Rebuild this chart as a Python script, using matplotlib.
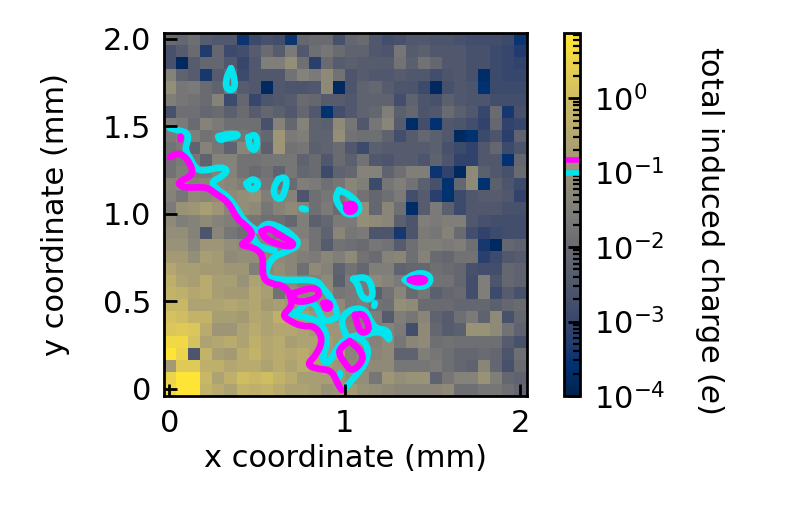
import numpy as np
import matplotlib
matplotlib.use("Agg")
import matplotlib.pyplot as plt
from matplotlib.colors import LogNorm
from matplotlib.path import Path
from matplotlib.patches import PathPatch

# log10 of the charge per pixel, top row first, left to right
log_charge = [
    [-2.0,-2.1,-1.9,-2.4,-2.5,-2.5,-3.5,-2.9,-2.7,-2.8,-3.5,-2.1,-2.0,-2.0,-2.7, -2.1,-2.0,-2.5,-2.8,-2.7,-2.5,-2.5,-2.6,-2.6,-2.7,-2.8,-2.8,-2.8,-2.9,-3.5],
    [-2.7,-2.4,-2.0,-3.3,-2.1,-2.9,-2.8,-2.4,-2.0,-2.4,-1.6,-2.5,-1.9,-1.7,-2.0, -2.2,-2.2,-2.5,-2.6,-1.7,-2.4,-2.3,-2.5,-2.5,-2.5,-2.7,-2.7,-2.9,-3.0,-3.3],
    [-2.7,-3.8,-2.4,-2.1,-2.1,-2.5,-3.0,-2.5,-1.5,-1.5,-1.1,-1.9,-3.2,-2.0,-2.4, -2.3,-2.4,-2.4,-2.4,-1.8,-2.3,-1.8,-2.1,-2.5,-2.5,-2.7,-2.7,-2.9,-3.0,-3.1],
    [-1.4,-2.2,-2.4,-3.4,-2.4,-2.1,-2.9,-2.5,-2.5,-2.5,-1.8,-1.4,-1.6,-1.2,-1.8, -2.6,-2.4,-2.5,-2.5,-2.4,-2.5,-2.5,-2.8,-2.6,-2.5,-2.7,-3.7,-2.9,-3.0,-3.0],
    [-1.1,-1.7,-1.6,-2.0,-2.2,-1.8,-2.4,-2.5,-3.8,-2.5,-2.6,-2.6,-2.5,-1.2,-3.8, -2.6,-2.2,-2.1,-2.4,-2.6,-2.6,-2.9,-3.8,-2.7,-2.5,-2.6,-3.6,-2.9,-2.9,-2.9],
    [-1.5,-1.7,-1.8,-2.0,-1.4,-2.9,-2.1,-3.0,-2.6,-2.5,-2.4,-2.0,-2.1,-2.4,-2.4, -2.5,-2.2,-2.2,-2.2,-2.8,-2.2,-2.6,-2.7,-2.3,-2.5,-2.6,-2.6,-2.8,-2.8,-2.8],
    [-2.7,-1.9,-1.9,-2.1,-2.0,-2.3,-2.0,-2.4,-2.1,-2.3,-2.5,-2.1,-2.5,-3.6,-2.8, -2.5,-2.2,-2.1,-1.5,-2.3,-2.1,-2.6,-2.5,-2.0,-2.3,-2.5,-3.0,-2.0,-3.4,-2.7],
    [-1.5,-1.6,-2.0,-1.4,-1.6,-1.9,-1.9,-1.9,-2.7,-1.4,-2.1,-1.4,-2.2,-2.3,-1.2, -1.7,-2.5,-1.7,-1.3,-2.4,-3.7,-2.8,-3.6,-2.5,-2.6,-2.8,-3.1,-2.1,-3.1,-3.0],
    [-1.6,-1.4,-1.5,-1.8,-1.7,-1.5,-1.7,-1.9,-2.1,-0.9,-1.6,-1.5,-2.2,-2.2,-1.1, -1.8,-1.9,-1.9,-2.2,-2.8,-2.4,-2.1,-2.3,-2.5,-3.8,-3.6,-2.9,-2.6,-3.2,-2.2],
    [-1.8,-1.6,-2.2,-1.4,-1.7,-2.2,-1.3,-1.5,-2.3,-0.9,-1.8,-1.7,-2.3,-2.2,-2.0, -2.5,-2.9,-2.3,-2.4,-2.4,-2.4,-2.4,-2.3,-2.7,-2.9,-3.1,-2.5,-2.1,-2.9,-2.6],
    [-1.8,-1.6,-1.7,-2.2,-1.4,-1.4,-1.8,-1.8,-1.7,-1.7,-1.7,-2.2,-2.0,-2.5,-2.0, -2.3,-1.8,-2.5,-2.6,-2.4,-2.4,-2.6,-2.2,-2.6,-3.1,-3.1,-2.5,-2.5,-3.6,-2.1],
    [-1.8,-1.5,-1.6,-1.6,-1.4,-1.4,-1.8,-2.0,-1.8,-2.2,-1.7,-2.1,-2.0,-2.9,-2.2, -2.1,-1.4,-1.4,-2.2,-1.9,-1.5,-1.5,-3.5,-3.1,-3.8,-1.2,-2.3,-2.5,-2.7,-2.0],
    [-1.3,-1.2,-1.4,-1.3,-1.2,-1.3,-1.5,-1.6,-1.7,-1.8,-2.0,-1.5,-1.6,-1.9,-1.7, -1.3,-1.5,-2.9,-1.7,-1.5,-1.8,-2.3,-2.7,-3.6,-2.1,-1.2,-3.6,-2.3,-2.6,-2.9],
    [-1.4,-1.7,-1.2,-1.3,-1.2,-1.2,-1.1,-1.0,-1.5,-1.4,-1.4,-2.6,-1.9,-1.7,-1.7, -1.4,-1.8,-2.1,-1.9,-1.6,-2.8,-2.4,-3.2,-3.6,-2.9,-2.5,-2.4,-2.4,-2.5,-3.1],
    [-1.6,-1.0,-0.9,-0.7,-0.9,-1.3,-1.1,-1.2,-1.7,-1.4,-1.2,-1.4,-1.9,-1.6,-2.0, -1.3,-1.1,-2.1,-1.3,-1.9,-3.7,-2.4,-1.6,-2.3,-2.9,-2.5,-2.5,-2.5,-2.7,-2.7],
    [-1.2,-1.5,-1.4,-1.2,-1.4,-1.5,-1.6,-1.7,-1.9,-1.9,-2.1,-1.5,-2.3,-2.1,-1.6, -1.6,-1.1,-1.2,-1.3,-2.3,-2.6,-1.5,-1.6,-1.5,-1.5,-2.5,-2.7,-2.8,-2.8,-2.8],
    [-1.1,-1.1,-1.4,-2.6,-1.3,-1.7,-1.9,-1.4,-1.5,-1.7,-1.5,-1.5,-1.8,-2.2,-1.3, -1.7,-1.6,-2.6,-2.6,-3.4,-2.6,-1.6,-1.7,-1.4,-2.0,-2.8,-3.1,-2.9,-2.8,-2.8],
    [-1.0,-1.0,-1.3,-0.9,-0.9,-1.1,-1.2,-1.1,-1.3,-1.3,-1.2,-1.3,-1.8,-2.4,-1.8, -1.9,-2.0,-1.7,-1.8,-2.4,-1.9,-1.5,-1.5,-1.6,-1.5,-1.9,-3.4,-3.8,-2.1,-2.2],
    [-0.8,-0.8,-1.1,-0.7,-0.8,-1.2,-1.1,-1.1,-1.2,-1.2,-1.3,-1.5,-1.6,-1.3,-1.5, -1.2,-1.8,-2.0,-1.4,-1.3,-1.9,-1.4,-2.0,-2.1,-1.8,-1.8,-3.2,-2.9,-2.5,-2.4],
    [-0.5,-0.7,-0.7,-0.8,-0.8,-0.9,-0.9,-1.5,-1.3,-1.1,-1.3,-1.9,-1.2,-1.4,-2.2, -1.8,-2.1,-1.5,-1.5,-2.2,-2.1,-2.1,-1.9,-2.0,-2.1,-2.7,-2.8,-2.8,-2.1,-2.2],
    [-0.3,-0.6,-0.7,-0.4,-0.7,-0.7,-1.0,-0.6,-0.8,-1.0,-1.2,-1.5,-1.4,-1.2,-2.3, -1.6,-1.6,-1.2,-1.4,-1.6,-1.8,-1.6,-1.8,-1.8,-2.1,-2.8,-1.5,-2.6,-2.1,-2.2],
    [-0.2,-0.3,-0.5,-0.4,-0.7,-0.8,-0.8,-0.5,-0.7,-1.8,-1.1,-1.2,-1.1,-1.2,-1.7, -1.6,-1.6,-2.3,-1.8,-1.3,-2.0,-1.7,-2.3,-2.1,-2.0,-2.8,-1.5,-2.9,-2.4,-2.7],
    [-0.1,-0.1,-0.6,-0.6,-0.6,-0.5,-0.6,-0.5,-0.8,-0.7,-0.9,-0.9,-1.1,-1.1,-1.2, -1.6,-1.5,-1.8,-1.9,-1.1,-1.2,-2.0,-2.0,-2.0,-2.1,-2.1,-2.1,-2.3,-2.1,-2.0],
    [ 0.1, 0.0,-0.2,-0.2,-0.7,-0.7,-0.8,-0.5,-0.6,-0.3,-0.7,-0.7,-0.9,-0.9,-1.1, -1.4,-1.5,-1.5,-2.4,-1.5,-1.7,-1.3,-2.2,-2.4,-1.9,-1.6,-2.2,-1.2,-2.7,-2.1],
    [ 0.2, 0.3, 0.2,-0.4,-0.9,-0.9,-0.6,-0.4,-0.6,-0.5,-0.5,-0.6,-0.8,-0.9,-0.9, -1.3,-1.3,-1.6,-1.4,-1.6,-2.8,-1.2,-2.1,-2.4,-2.3,-1.0,-1.0,-1.2,-1.8,-2.2],
    [ 0.6, 0.6, 0.1,-0.6,-0.5,-0.4,-0.6,-0.3,-0.5,-0.4,-0.7,-0.6,-0.6,-0.8,-0.9, -1.3,-1.2,-1.4,-1.2,-1.7,-1.3,-1.2,-1.9,-1.8,-1.9,-1.9,-1.9,-1.9,-2.4,-2.7],
    [ 0.8, 0.5,-2.6,-0.2,-0.7,-0.8,-0.4,-0.2,-0.5,-0.4,-0.5,-0.4,-0.6,-0.8,-0.7, -1.3,-1.2,-1.3,-1.2,-2.2,-2.2,-1.5,-1.7,-1.9,-2.1,-2.1,-2.0,-2.1,-2.6,-1.9],
    [-0.8, 0.3, 0.3,-0.3,-0.3,-0.5,-0.4,-0.4,-0.6,-0.4,-0.6,-0.4,-0.6,-0.8,-0.9, -1.2,-1.2,-1.2,-1.2,-1.7,-1.7,-1.7,-1.6,-1.9,-2.1,-2.2,-1.3,-2.1,-2.7,-2.0],
    [ 0.5, 0.8, 0.8,-0.1,-0.6,-0.3, 0.0,-0.1, 0.0,-0.2,-0.4,-0.7,-0.7,-0.7,-0.9, -1.1,-1.1,-1.7,-0.9,-1.1,-1.0,-1.0,-2.2,-1.7,-1.4,-1.4,-1.0,-1.5,-2.1,-2.2],
    [ 0.6, 0.8, 0.8,-0.2,-0.4,-0.6,-0.2,-0.3,-0.2,-0.4,-0.6,-0.6,-0.7,-1.0,-0.9, -0.8,-1.0,-1.1,-1.2,-1.3,-1.3,-1.3,-1.3,-1.2,-1.9,-1.9,-1.7,-1.7,-1.9,-2.1],
]

# contour lines at 0.1 e, (x, y) in mm
cyan_lines = [
    [(0.003,1.49),(0.06,1.476),(0.107,1.461),(0.104,1.413),(0.088,1.37),(0.117,1.318),(0.155,1.251),(0.212,1.248),
     (0.288,1.27),(0.336,1.251),(0.298,1.213),(0.24,1.185),(0.26,1.147),(0.336,1.099),(0.383,1.032),(0.421,0.966),
     (0.478,0.918),(0.507,0.899),(0.545,0.947),(0.611,0.937),(0.706,0.88),(0.744,0.823),(0.668,0.785),(0.592,0.756),
     (0.554,0.69),(0.554,0.642),(0.611,0.623),(0.725,0.623),(0.84,0.623),(0.877,0.575),(0.925,0.518),(0.963,0.423),
     (0.934,0.394),(0.877,0.389),(0.849,0.451),(0.82,0.495),(0.773,0.49),(0.725,0.432),(0.687,0.44)],
    [(0.478,0.87),(0.50,0.82),(0.56,0.80),(0.60,0.79)],
    [(0.687,0.432),(0.801,0.404),(0.868,0.381),(0.906,0.28),(0.868,0.166),(0.906,0.141),(0.954,0.232),(1.011,0.299),
     (1.125,0.309),(1.172,0.328),(1.229,0.318),(1.258,0.27),(1.248,0.337),(1.185,0.343),(1.153,0.375),(1.115,0.461),
     (1.03,0.457),(0.973,0.394),(1.011,0.299)],
    [(1.068,0.299),(1.134,0.251),(1.128,0.156),(1.058,0.07),(1.001,0.004)],
    [(0.973,0.09),(0.969,0.07)],
    [(1.172,0.49),(1.168,0.475)],
    [(1.049,0.629),(1.115,0.642),(1.153,0.604),(1.162,0.518),(1.115,0.509),(1.087,0.547),(1.077,0.594),(1.049,0.629)],
    [(0.351,1.832),(0.374,1.766),(0.37,1.709),(0.326,1.709),(0.32,1.766),(0.351,1.832)],
    [(0.279,1.442),(0.326,1.457),(0.393,1.457),(0.383,1.442),(0.326,1.436),(0.288,1.419),(0.279,1.442)],
    [(0.45,1.438),(0.488,1.457),(0.503,1.419),(0.492,1.362),(0.459,1.375),(0.45,1.438)],
    [(0.44,1.175),(0.478,1.204),(0.512,1.175),(0.488,1.137),(0.45,1.147),(0.44,1.175)],
    [(0.621,1.198),(0.659,1.213),(0.672,1.175),(0.64,1.08),(0.602,1.095),(0.592,1.147),(0.621,1.198)],
    [(0.754,1.032),(0.778,1.026)],
    [(0.968,1.137),(1.029,1.109),(1.087,1.051),(1.077,1.004),(1.02,0.994),(0.982,1.023),(0.944,1.09),(0.968,1.137)],
    [(1.343,0.623),(1.4,0.661),(1.466,0.661),(1.495,0.627),(1.466,0.585),(1.391,0.585),(1.343,0.623)],
]

# contour lines at 0.15 e
magenta_lines = [
    [(0.003,1.324),(0.041,1.347),(0.079,1.337),(0.117,1.29),(0.136,1.232),(0.098,1.204),(0.041,1.175),(0.088,1.147),
     (0.212,1.156),(0.26,1.118),(0.336,1.07),(0.383,0.975),(0.431,0.937),(0.478,0.89),(0.45,0.851),(0.402,0.823),
     (0.459,0.813),(0.512,0.789),(0.535,0.747),(0.531,0.632),(0.583,0.6),(0.659,0.59),(0.697,0.518),(0.697,0.47),
     (0.645,0.423),(0.678,0.394),(0.754,0.356),(0.829,0.362),(0.877,0.286),(0.839,0.194),(0.782,0.141),(0.839,0.114),
     (0.925,0.109),(0.963,0.023),(0.982,-0.005)],
    [(0.526,0.899),(0.569,0.922),(0.63,0.876),(0.716,0.832),(0.687,0.81),(0.602,0.832),(0.545,0.861),(0.526,0.899)],
    [(0.706,0.547),(0.83,0.585),(0.862,0.541),(0.811,0.505),(0.716,0.495),(0.706,0.547)],
    [(1.058,0.423),(1.109,0.432),(1.143,0.347),(1.115,0.318),(1.083,0.331),(1.058,0.423)],
    [(1.029,0.274),(1.106,0.204),(1.096,0.147),(1.039,0.099),(1.001,0.147),(0.963,0.204),(0.982,0.242),(1.029,0.274)],
    [(0.88,0.49),(0.91,0.495),(0.92,0.465),(0.89,0.455),(0.88,0.49)],
    [(0.063,1.445),(0.063,1.43)],
    [(1.01,1.051),(1.048,1.061),(1.063,1.027),(1.029,1.008),(1.007,1.023),(1.01,1.051)],
    [(1.372,0.623),(1.42,0.638),(1.471,0.623),(1.42,0.604),(1.372,0.623)],
]

contour_levels = [0.1, 0.15]
x_ticks = [0, 1, 2]
y_ticks = [0, 0.5, 1.0, 1.5, 2.0]
y_ticklabels = ["0", "0.5", "1.0", "1.5", "2.0"]

CYAN = "#00e5ee"
MAGENTA = "#ff00ff"


def draw_line(ax, line, color):
    # quadratic curves through the midpoints, so the corners come out round
    pts = np.array(line)
    mids = (pts[:-1] + pts[1:]) / 2
    verts = [pts[0], mids[0]]
    codes = [Path.MOVETO, Path.LINETO]
    for p, m in zip(pts[1:-1], mids[1:]):
        verts += [p, m]
        codes += [Path.CURVE3, Path.CURVE3]
    verts.append(pts[-1])
    codes.append(Path.LINETO)
    ax.add_patch(PathPatch(Path(verts, codes), fill=False, edgecolor=color, lw=2.4,
                           capstyle="round", joinstyle="round"))


plt.rcParams.update({
    "font.family": "DejaVu Sans",
    "font.size": 11,
    "axes.linewidth": 1.0,
})

W, H = 802, 512
fig = plt.figure(figsize=(W / 200, H / 200), dpi=200)
ax = fig.add_axes([164 / W, 1 - 396 / H, (526.5 - 164) / W, (396 - 33) / H])
cax = fig.add_axes([563.5 / W, 1 - 396 / H, 17 / W, (396 - 33) / H])

charge = 10.0 ** np.array(log_charge)[::-1]
x_edges = np.linspace(-0.031, 2.037, charge.shape[1] + 1)
y_edges = np.linspace(-0.04, 2.034, charge.shape[0] + 1)
norm = LogNorm(vmin=1e-4, vmax=7.5)
mesh = ax.pcolormesh(x_edges, y_edges, charge, cmap="cividis", norm=norm)

for line in cyan_lines:
    draw_line(ax, line, CYAN)
for line in magenta_lines:
    draw_line(ax, line, MAGENTA)

ax.set_xlim(-0.031, 2.037)
ax.set_ylim(-0.04, 2.034)
ax.set_xticks(x_ticks)
ax.set_yticks(y_ticks)
ax.set_yticklabels(y_ticklabels)
ax.tick_params(direction="in", length=4.5, width=1, pad=4.5, labelsize=11)
ax.set_xlabel("x coordinate (mm)", fontsize=11, labelpad=2.5)
ax.set_ylabel("y coordinate (mm)", fontsize=11, labelpad=12)

cbar = fig.colorbar(mesh, cax=cax)
cbar.ax.tick_params(which="major", direction="in", length=4.5, width=1, labelsize=11, pad=5)
cbar.ax.tick_params(which="minor", direction="in", length=2.5, width=0.8)
cbar.ax.axhline(contour_levels[0], color=CYAN, lw=2)
cbar.ax.axhline(contour_levels[1], color=MAGENTA, lw=2)
cbar.set_label("total induced charge ($e$)", rotation=270, fontsize=11, va="center")
cbar.ax.yaxis.set_label_coords(8.6, 0.459)

fig.savefig("out.png", dpi=200, facecolor="white")
